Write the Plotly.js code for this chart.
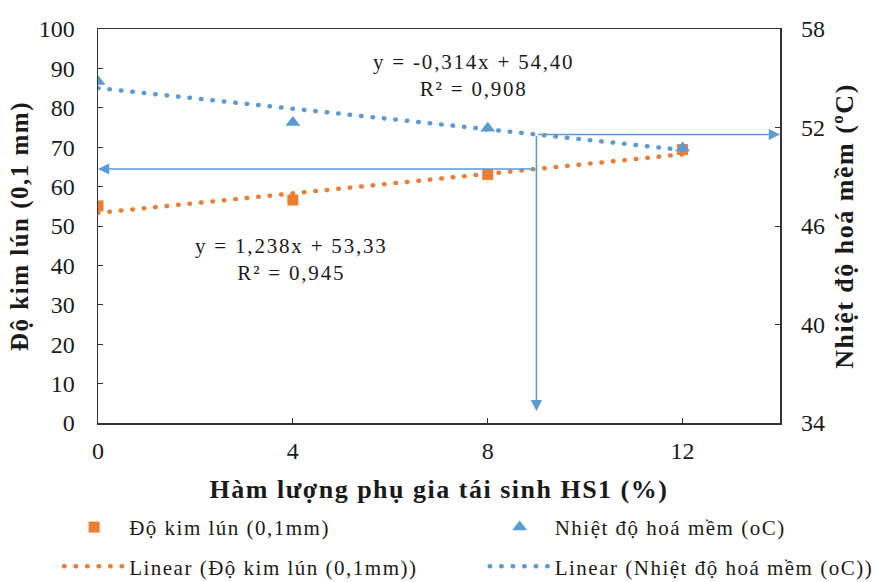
<!DOCTYPE html>
<html>
<head>
<meta charset="utf-8">
<script src="https://cdn.plot.ly/plotly-3.0.1.min.js"></script>
<style>
html,body{margin:0;padding:0;background:#fff;}
#chart{width:874px;height:582px;}
text{font-family:"Liberation Serif","Times New Roman",serif !important;}
text.legendtext{letter-spacing:1.5px;}
text.annotation-text{letter-spacing:1.8px;}
text.xtitle, text.ytitle, text.y2title{letter-spacing:1.5px;}
.js-line{stroke-linecap:round;}
</style>
</head>
<body>
<div id="chart"></div>
<script>
// ---- data ----
const xContent = [0, 4, 8, 12];                 // Hàm lượng phụ gia tái sinh HS1 (%)
const penetration = [55.1, 56.6, 63.1, 69.4];   // Độ kim lún (0,1mm)
const softening = [54.8, 52.3, 51.95, 50.75];   // Nhiệt độ hoá mềm (oC)
const penSlope = 1.238, penIntercept = 53.33;   // y = 1,238x + 53,33
const softSlope = -0.314, softIntercept = 54.40; // y = -0,314x + 54,40
const trendX = [0, 12];
const readX = 9;          // guide-line content value
const readArrowEndY = 3;  // bottom end of vertical guide (left-axis units)
const yLeftRange = [0, 100];
const yRightRange = [34, 58];
const yRightTicks = [34, 40, 46, 52, 58];
const xRange = [0, 14];
const xTicks = [0, 4, 8, 12];

const orange = '#ED7D31', blue = '#5B9BD5';
const serif = '"Liberation Serif", "Times New Roman", serif';

const penTrend = trendX.map(x => penSlope * x + penIntercept);
const softTrend = trendX.map(x => softSlope * x + softIntercept);
const penAtRead = penSlope * readX + penIntercept;
const softAtRead = softSlope * readX + softIntercept;
const softAtReadLeft = (softAtRead - yRightRange[0]) / (yRightRange[1] - yRightRange[0]) * (yLeftRange[1] - yLeftRange[0]) + yLeftRange[0];

const traces = [
  {x: xContent, y: penetration, type: 'scatter', mode: 'markers', name: 'Độ kim lún (0,1mm)',
   marker: {symbol: 'square', size: 11, color: orange}, legend: 'legend', legendgroup: 'a'},
  {x: trendX, y: penTrend, type: 'scatter', mode: 'lines', name: 'Linear (Độ kim lún (0,1mm))',
   line: {color: orange, width: 4.5, dash: '0.5px,11px'}, legend: 'legend', legendgroup: 'b'},
  {x: xContent, y: softening, type: 'scatter', mode: 'markers', name: 'Nhiệt độ hoá mềm (oC)', yaxis: 'y2',
   marker: {symbol: 'triangle-up', size: 13, color: blue}, legend: 'legend2', legendgroup: 'c'},
  {x: trendX, y: softTrend, type: 'scatter', mode: 'lines', name: 'Linear (Nhiệt độ hoá mềm (oC))', yaxis: 'y2',
   line: {color: blue, width: 4.5, dash: '0.5px,11px'}, legend: 'legend2', legendgroup: 'd'}
];

const arrowCommon = {showarrow: true, text: '', arrowhead: 2, arrowsize: 1.4, arrowwidth: 1.6,
  arrowcolor: blue, standoff: 0, startstandoff: 0, xref: 'x', axref: 'x'};

const legendFont = {size: 21, family: serif, color: '#1a1a1a'};

const layout = {
  width: 874, height: 582,
  margin: {l: 98, r: 94, t: 29, b: 159, autoexpand: false},
  paper_bgcolor: '#fff', plot_bgcolor: '#fff',
  font: {family: serif, size: 21, color: '#1a1a1a'},
  showlegend: true,
  xaxis: {range: xRange, tickvals: xTicks, ticks: 'inside', ticklen: 5, tickwidth: 1, tickcolor: '#333',
    showline: true, linecolor: '#333', linewidth: 1.5, mirror: true, showgrid: false, zeroline: false,
    tickfont: {size: 24, family: serif}, ticklabelstandoff: 6,
    title: {text: '<b>Hàm lượng phụ gia tái sinh HS1 (%)</b>', font: {size: 26, family: serif}, standoff: 16}},
  yaxis: {range: yLeftRange, dtick: 10, ticks: 'inside', ticklen: 5, tickwidth: 1, tickcolor: '#333',
    showline: true, linecolor: '#333', linewidth: 1.5, mirror: true, showgrid: false, zeroline: false,
    tickfont: {size: 24, family: serif}, ticklabelstandoff: 17,
    title: {text: '<b>Độ kim lún (0,1 mm)</b>', font: {size: 25, family: serif}, standoff: 3}},
  yaxis2: {range: yRightRange, tickvals: yRightTicks, overlaying: 'y', side: 'right', ticks: 'inside', ticklen: 5,
    tickwidth: 1, tickcolor: '#333', showline: false, showgrid: false, zeroline: false,
    tickfont: {size: 24, family: serif}, ticklabelstandoff: 20,
    title: {text: '<b>Nhiệt độ hoá mềm (ºC)</b>', font: {size: 26, family: serif}, standoff: 10}},
  legend: {x: -0.057, y: -0.213, xanchor: 'left', yanchor: 'top', orientation: 'v', itemwidth: 60,
    font: legendFont, tracegroupgap: 9, bgcolor: 'rgba(0,0,0,0)'},
  legend2: {x: 0.567, y: -0.213, xanchor: 'left', yanchor: 'top', orientation: 'v', itemwidth: 60,
    font: legendFont, tracegroupgap: 9, bgcolor: 'rgba(0,0,0,0)'},
  annotations: [
    {xref: 'x', yref: 'y', x: 7.7, y: 88.3, text: 'y = -0,314x + 54,40<br>R² = 0,908', showarrow: false,
     font: {size: 21, family: serif}, align: 'center', xanchor: 'center', yanchor: 'middle'},
    {xref: 'x', yref: 'y', x: 3.98, y: 41.4, text: 'y = 1,238x + 53,33<br>R² = 0,945', showarrow: false,
     font: {size: 21, family: serif}, align: 'center', xanchor: 'center', yanchor: 'middle'},
    Object.assign({}, arrowCommon, {x: xRange[0], y: penAtRead, yref: 'y', ax: readX, ay: penAtRead, ayref: 'y'}),
    Object.assign({}, arrowCommon, {x: xRange[1], y: softAtRead, yref: 'y2', ax: readX, ay: softAtRead, ayref: 'y2'}),
    Object.assign({}, arrowCommon, {x: readX, y: readArrowEndY, yref: 'y', ax: readX, ay: softAtReadLeft, ayref: 'y'})
  ]
};

Plotly.newPlot('chart', traces, layout, {displayModeBar: false, staticPlot: true}).then(function (gd) {
  gd.querySelectorAll('.infolayer g[class^="legend"] text').forEach(function (t) {
    t.style.letterSpacing = '1.5px';
  });
  gd.querySelectorAll('.infolayer g[class^="legend"] [clip-path]').forEach(function (e) {
    e.removeAttribute('clip-path');
  });
});
</script>
</body>
</html>
